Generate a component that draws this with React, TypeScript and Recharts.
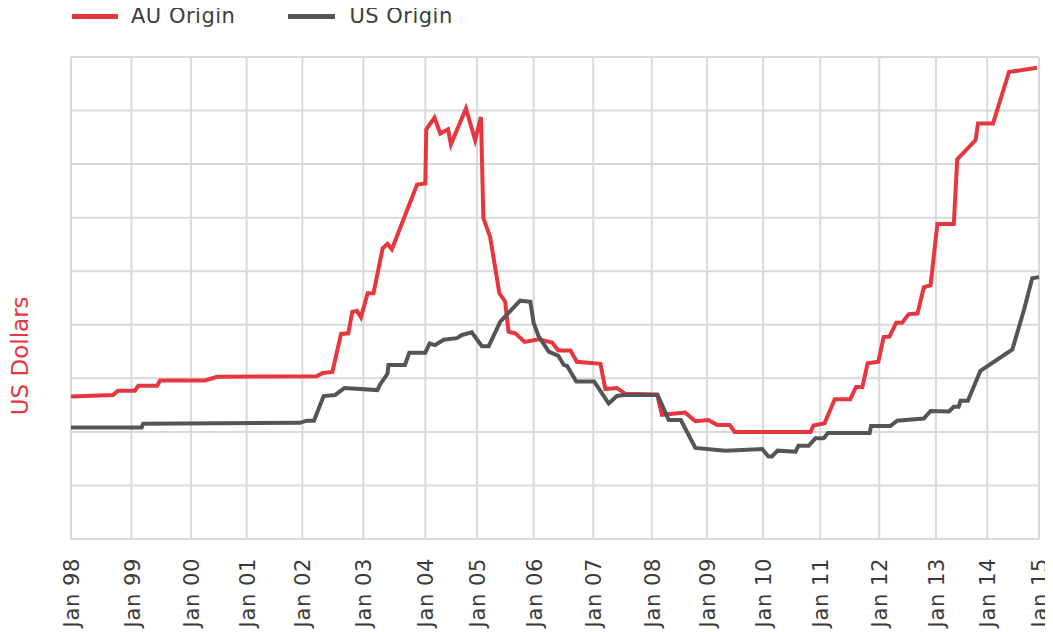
import { LineChart, Line, XAxis, YAxis, CartesianGrid, Legend } from 'recharts'

// x = observation index along the time axis (irregular sampling), y = US dollars
const JAN_IDX = [0, 12.5, 24.8, 36.3, 47.8, 60.4, 73.2, 83.9, 95.6, 107.9, 120.0, 131.4, 143.0, 154.8, 167.0, 178.7, 189.3, 200]
const JAN_LABELS = ['Jan 98', 'Jan 99', 'Jan 00', 'Jan 01', 'Jan 02', 'Jan 03', 'Jan 04', 'Jan 05', 'Jan 06',
    'Jan 07', 'Jan 08', 'Jan 09', 'Jan 10', 'Jan 11', 'Jan 12', 'Jan 13', 'Jan 14', 'Jan 15']

const AU_IDX = [0, 8.7, 9.7, 13.2, 13.9, 17.8, 18.4, 27.7, 30.2, 50.8, 52.0, 54.0, 55.8, 57.3, 58.1, 59.1, 59.9,
    61.3, 62.5, 64.4, 65.4, 66.3, 71.5, 73.2, 73.4, 75.1, 76.3, 77.9, 78.5, 81.6, 83.5, 84.7, 85.2, 86.6, 88.5,
    89.7, 90.4, 91.8, 93.7, 96.7, 99.4, 100.7, 103.2, 104.5, 109.4, 110.4, 112.8, 114.5, 121.1, 122.1, 126.9,
    129.0, 131.7, 133.5, 136.1, 137.1, 152.8, 153.4, 155.7, 157.8, 161.0, 162.2, 163.5, 164.6, 166.8, 167.9,
    169.1, 170.5, 171.7, 173.1, 174.9, 176.2, 177.6, 179.0, 182.4, 183.1, 186.9, 187.4, 190.5, 193.8, 199.6]
const AU_VAL = [2.66, 2.69, 2.77, 2.77, 2.86, 2.86, 2.96, 2.96, 3.03, 3.04, 3.10, 3.12, 3.83, 3.84, 4.24, 4.26, 4.14,
    4.59, 4.59, 5.43, 5.51, 5.41, 6.62, 6.64, 7.65, 7.87, 7.57, 7.65, 7.37, 8.04, 7.45, 7.88, 5.99, 5.64, 4.59,
    4.43, 3.87, 3.84, 3.68, 3.73, 3.67, 3.52, 3.52, 3.31, 3.27, 2.80, 2.82, 2.71, 2.70, 2.32, 2.36,
    2.20, 2.22, 2.13, 2.13, 2.00, 2.00, 2.12, 2.16, 2.61, 2.61, 2.84, 2.84, 3.28, 3.31, 3.77,
    3.78, 4.04, 4.04, 4.20, 4.21, 4.70, 4.74, 5.88, 5.88, 7.09, 7.45, 7.76, 7.76, 8.72, 8.80]

const US_IDX = [0, 14.6, 14.9, 47.3, 48.7, 50.2, 52.2, 54.6, 56.5, 63.3, 63.9, 65.4, 65.6, 69.0, 69.9, 73.2, 74.1,
    75.2, 77.0, 79.7, 80.8, 82.8, 84.9, 86.3, 88.7, 92.8, 94.9, 95.6, 96.6, 98.7, 100.7, 101.8, 102.5, 104.4,
    108.1, 111.1, 112.8, 114.3, 121.2, 123.5, 126.0, 129.0, 135.2, 142.8, 144.1, 144.8, 146.0, 149.7, 150.3,
    152.4, 153.8, 155.5, 156.4, 165.0, 165.3, 169.3, 170.7, 176.2, 177.6, 181.4, 182.4, 183.4, 183.8, 185.3,
    187.9, 194.5, 196.9, 198.6, 200]
const US_VAL = [2.08, 2.08, 2.15, 2.17, 2.21, 2.21, 2.67, 2.69, 2.82, 2.78, 2.89, 3.09, 3.25, 3.25, 3.48, 3.48, 3.65,
    3.62, 3.72, 3.75, 3.81, 3.86, 3.60, 3.60, 4.06, 4.45, 4.43, 4.03, 3.79, 3.50, 3.42, 3.25, 3.23, 2.94,
    2.94, 2.53, 2.67, 2.69, 2.69, 2.22, 2.22, 1.70, 1.65, 1.68, 1.54, 1.54, 1.65, 1.63, 1.74,
    1.74, 1.88, 1.88, 1.98, 1.98, 2.11, 2.11, 2.21, 2.25, 2.39, 2.38, 2.47, 2.47, 2.58, 2.58,
    3.14, 3.54, 4.28, 4.87, 4.89]

const Y_TICKS = [0, 1, 2, 3, 4, 5, 6, 7, 8, 9]

const RED = '#E8363F'
const GREY = '#555555'
const FONT = '"DejaVu Sans", sans-serif'

const auData = AU_IDX.map((x, i) => ({ x, au: AU_VAL[i] }))
const usData = US_IDX.map((x, i) => ({ x, us: US_VAL[i] }))

const JanTick = ({ x, y, payload }: any) => {
    const i = JAN_IDX.indexOf(payload.value)
    return (
        <g transform={`translate(${x},${y})`}>
            <text transform="rotate(-90)" x={-11} y={8} textAnchor="end" fill="#3a3a3a"
                fontSize={21} letterSpacing={0.6} fontFamily={FONT}>
                {JAN_LABELS[i]}
            </text>
        </g>
    )
}

const NoTick = () => <g />

const YLabel = ({ viewBox }: any) => {
    const x = 12
    const y = viewBox.y + viewBox.height * 0.62
    return (
        <text x={x} y={y} transform={`rotate(-90, ${x}, ${y})`} textAnchor="middle" dominantBaseline="central"
            fill={RED} fontSize={23} fontFamily={FONT}>
            US Dollars
        </text>
    )
}

const LegendContent = () => (
    <div style={{ display: 'flex', alignItems: 'center', height: 16, fontFamily: FONT, fontSize: 21,
        letterSpacing: 0.5, color: '#3d3d3d', whiteSpace: 'nowrap' }}>
        <span style={{ width: 46, height: 5, background: RED, display: 'inline-block' }} />
        <span style={{ marginLeft: 13, lineHeight: '16px' }}>AU Origin</span>
        <span style={{ width: 47, height: 5, background: GREY, display: 'inline-block', marginLeft: 53 }} />
        <span style={{ marginLeft: 14, lineHeight: '16px' }}>US Origin</span>
    </div>
)

export default function App() {
    return (
        <div style={{ width: 1045, height: 624, fontFamily: FONT }}>
            <LineChart width={1045} height={624} margin={{ top: 33, right: 14, bottom: 0, left: 8 }}>
                <CartesianGrid stroke="#d9d9d9" strokeWidth={2} />
                <XAxis type="number" dataKey="x" domain={[0, 200]} ticks={JAN_IDX} interval={0}
                    axisLine={false} tickLine={false} height={93} tick={<JanTick />} />
                <YAxis type="number" domain={[0, 9]} ticks={Y_TICKS} interval={0} width={55} tick={<NoTick />}
                    axisLine={false} tickLine={false} label={<YLabel />} />
                <Legend verticalAlign="top" align="left" content={<LegendContent />}
                    wrapperStyle={{ top: 0, left: 64, width: 'auto' }} />
                <Line data={auData} dataKey="au" type="linear" stroke={RED} strokeWidth={4} dot={false}
                    activeDot={false} isAnimationActive={false} />
                <Line data={usData} dataKey="us" type="linear" stroke={GREY} strokeWidth={4} dot={false}
                    activeDot={false} isAnimationActive={false} />
            </LineChart>
        </div>
    )
}
